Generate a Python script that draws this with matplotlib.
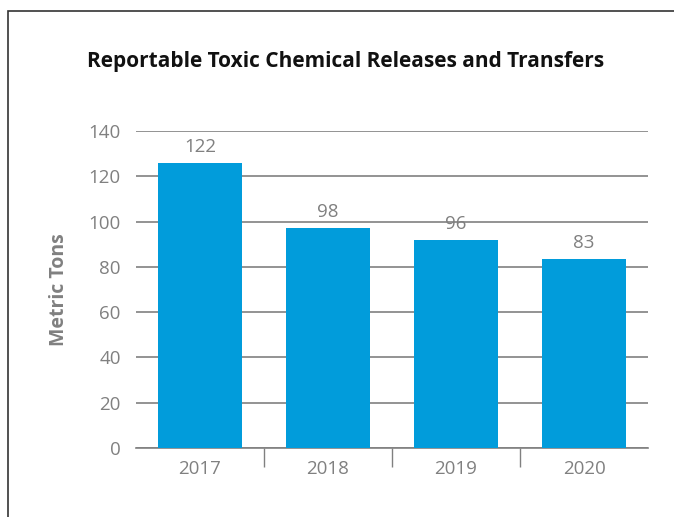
import matplotlib
matplotlib.use("Agg")
import matplotlib.pyplot as plt
from matplotlib.patches import Rectangle

# Chart data
years = ["2017", "2018", "2019", "2020"]
bar_heights = [126, 97, 92, 83.5]   # bar heights as drawn in the picture
bar_labels = ["122", "98", "96", "83"]  # value labels printed above the bars
y_ticks = [0, 20, 40, 60, 80, 100, 120, 140]

grey = "#808080"
blue = "#019cdb"

plt.rcParams['font.family'] = ['Open Sans', 'DejaVu Sans']

fig = plt.figure(figsize=(6.74, 5.17), dpi=100)
ax = fig.add_axes([136 / 674, 0.1335, 512 / 674, 0.613])

x = range(len(years))
bars = ax.bar(x, bar_heights, width=0.66, color=blue, zorder=3)

for b, lab in zip(bars, bar_labels):
    ax.annotate(lab, (b.get_x() + b.get_width() / 2, b.get_height()),
                xytext=(0, 5), textcoords="offset points",
                ha="center", va="bottom", fontsize=13.5, color=grey)

ax.set_xlim(-0.5, len(years) - 0.5)
ax.set_ylim(0, 140)
ax.set_yticks(y_ticks)
ax.set_yticklabels([str(v) for v in y_ticks], fontsize=13.5, color=grey)
ax.set_xticks(list(x))
ax.set_xticklabels(years, fontsize=13.5, color=grey)
ax.set_xticks([i + 0.5 for i in range(len(years) - 1)], minor=True)
ax.tick_params(axis="x", which="major", length=0, pad=9)
ax.tick_params(axis="x", which="minor", length=14, width=1, color=grey)
ax.tick_params(axis="y", length=0, pad=11)

ax.grid(axis="y", color=grey, linewidth=1.2, zorder=0)
for s in ["top", "right", "left"]:
    ax.spines[s].set_visible(False)
ax.spines["bottom"].set_color(grey)
ax.spines["bottom"].set_linewidth(1.2)

ax.set_ylabel("Metric Tons", fontsize=14, fontweight="bold", color=grey, labelpad=14)

fig.text(0.513, 0.882, "Reportable Toxic Chemical Releases and Transfers",
         ha="center", va="center", fontsize=15, fontweight="bold", color="#111111")

# outer frame (left and top edges visible)
fig.add_artist(Rectangle((8 / 674, -0.1), 1.1, 1.1 - 11 / 517, transform=fig.transFigure,
                         fill=False, edgecolor="#333333", linewidth=1.2))

fig.savefig("out.png", dpi=100)
